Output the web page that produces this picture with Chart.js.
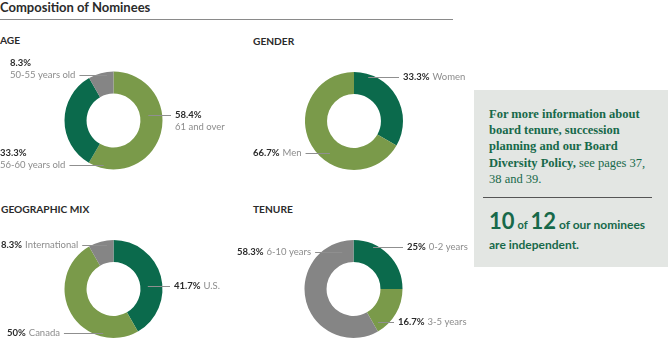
<!DOCTYPE html>
<html lang="en">
<head>
<meta charset="UTF-8">
<title>Composition of Nominees</title>
<script src="https://cdn.jsdelivr.net/npm/chart.js"></script>
<style>
    body { margin: 0; background: #fff; font-family: Lato, sans-serif; }
    #page { position: relative; width: 668px; height: 340px; overflow: hidden; }
    #page canvas { position: absolute; left: 0; top: 0; }
    .title { position: absolute; left: 0; top: -1px; font-size: 13px; line-height: 16px; font-weight: 700; color: #2b2b2b; }
    .rule { position: absolute; left: 0; top: 19px; width: 453px; border-top: 1px solid #8a8a8a; }
    .head { position: absolute; font-size: 10.2px; line-height: 12px; font-weight: 700; color: #2b2b2b; }
    .panel { position: absolute; left: 474px; top: 90px; width: 194px; height: 177px; background: #e3e6e3; color: #17694a; }
    .more { position: absolute; left: 15px; top: 16px; font-family: "Liberation Serif", serif; font-size: 12.5px; line-height: 16.2px; }
    .more b { font-weight: 700; }
    .divider { position: absolute; left: 9px; top: 107px; width: 169px; border-top: 1px solid #555; }
    .count { position: absolute; left: 15px; top: 121px; font-weight: 700; font-size: 12px; line-height: 20px; white-space: nowrap; }
    .count .big { font-size: 22px; }
    .count .sm { font-size: 11px; }
</style>
</head>
<body>
<div id="page">
    <div class="title">Composition of Nominees</div>
    <div class="rule"></div>
    <div class="head" style="left:0;top:34px">AGE</div>
    <div class="head" style="left:253px;top:35px">GENDER</div>
    <div class="head" style="left:1px;top:203px">GEOGRAPHIC MIX</div>
    <div class="head" style="left:253px;top:203px">TENURE</div>

    <canvas id="ageChart" width="668" height="340"></canvas>
    <canvas id="genderChart" width="668" height="340"></canvas>
    <canvas id="geoChart" width="668" height="340"></canvas>
    <canvas id="tenureChart" width="668" height="340"></canvas>

    <div class="panel">
        <div class="more"><b>For more information about<br>board tenure, succession<br>planning and our Board<br>Diversity Policy,</b> see pages 37,<br>38 and 39.</div>
        <div class="divider"></div>
        <div class="count"><span class="big">10</span> <span class="sm">of</span> <span class="big">12</span> of our nominees<br><span style="line-height:18px">are independent.</span></div>
    </div>
</div>

<script>
    // dados das rosquinhas (percentuais)
    const ageLabels = ['61 and over', '56-60 years old', '50-55 years old'];
    const agePct = [58.4, 33.3, 8.3];

    const genderLabels = ['Women', 'Men'];
    const genderPct = [33.3, 66.7];

    const geoLabels = ['U.S.', 'Canada', 'International'];
    const geoPct = [41.7, 50, 8.3];

    const tenureLabels = ['0-2 years', '3-5 years', '6-10 years'];
    const tenurePct = [25, 16.7, 58.3];

    const DARK = '#0b6a4c';
    const OLIVE = '#7a9a4a';
    const GRAY = '#858585';

    const BOLD = '700 9.5px Lato';
    const REG = '400 9.5px Lato';

    // desenha os rotulos com linha guia
    const leaderPlugin = {
        id: 'leaders',
        afterDraw(chart, args, opts) {
            const ctx = chart.ctx;
            const first = chart.getDatasetMeta(0).data[0];
            const cx = first.x, r = first.outerRadius;
            const values = chart.data.datasets[0].data;
            const names = chart.data.labels;
            ctx.save();
            ctx.textBaseline = 'middle';
            opts.spots.forEach((s, i) => {
                const pct = values[i] + '%';
                ctx.font = BOLD;
                const pw = ctx.measureText(pct).width;
                ctx.font = REG;
                const tw = ctx.measureText(names[i]).width;

                ctx.fillStyle = '#2b2b2b';
                ctx.font = BOLD;
                ctx.fillText(pct, s.x, s.y);
                ctx.fillStyle = '#8c8c8c';
                ctx.font = REG;
                let rowW, lineY;
                if (s.stacked) {
                    ctx.fillText(names[i], s.x, s.y + 12);
                    lineY = s.lineRow ? s.y + 12 : s.y;
                    rowW = s.lineRow ? tw : pw;
                } else {
                    ctx.fillText(names[i], s.x + pw + 3, s.y);
                    lineY = s.y;
                    rowW = pw + 3 + tw;
                }
                const end = cx + s.reach * r;
                let x1, x2;
                if (s.side === 'left') { x1 = s.x + rowW + 4; x2 = end; }
                else { x1 = end; x2 = s.x - 4; }
                ctx.strokeStyle = '#8f8f8f';
                ctx.lineWidth = 1;
                ctx.beginPath();
                ctx.moveTo(x1, Math.round(lineY) + 0.5);
                ctx.lineTo(x2, Math.round(lineY) + 0.5);
                ctx.stroke();
            });
            ctx.restore();
        }
    };

    function donut(id, labels, values, colors, center, spots) {
        const rad = 49;
        new Chart(document.getElementById(id), {
            type: 'doughnut',
            data: {
                labels: labels,
                datasets: [{ data: values, backgroundColor: colors, borderWidth: 0 }]
            },
            options: {
                responsive: false,
                animation: false,
                cutout: '55%',
                layout: {
                    padding: {
                        left: center[0] - rad,
                        right: 668 - center[0] - rad,
                        top: center[1] - rad,
                        bottom: 340 - center[1] - rad
                    }
                },
                plugins: {
                    legend: { display: false },
                    tooltip: { enabled: false },
                    leaders: { spots: spots }
                },
                events: []
            },
            plugins: [leaderPlugin]
        });
    }

    donut('ageChart', ageLabels, agePct, [OLIVE, DARK, GRAY], [113.5, 120.5], [
        { x: 175, y: 115, stacked: true, lineRow: 0, side: 'right', reach: 0.71 },
        { x: 0, y: 153, stacked: true, lineRow: 1, side: 'left', reach: -0.2 },
        { x: 10, y: 63, stacked: true, lineRow: 1, side: 'left', reach: -0.13 }
    ]);
    donut('genderChart', genderLabels, genderPct, [DARK, OLIVE], [354, 121], [
        { x: 403, y: 77, side: 'right', reach: 0.29 },
        { x: 253, y: 153, side: 'left', reach: -0.49 }
    ]);
    donut('geoChart', geoLabels, geoPct, [DARK, OLIVE, GRAY], [113.5, 289], [
        { x: 174, y: 286, side: 'right', reach: 0.7 },
        { x: 7, y: 333, side: 'left', reach: -0.21 },
        { x: 1, y: 245, side: 'left', reach: -0.13 }
    ]);
    donut('tenureChart', tenureLabels, tenurePct, [DARK, OLIVE, GRAY], [353.5, 289], [
        { x: 407, y: 247, side: 'right', reach: 0.4 },
        { x: 398, y: 322, side: 'right', reach: 0.5 },
        { x: 237, y: 252, side: 'left', reach: -0.23 }
    ]);
</script>
</body>
</html>
